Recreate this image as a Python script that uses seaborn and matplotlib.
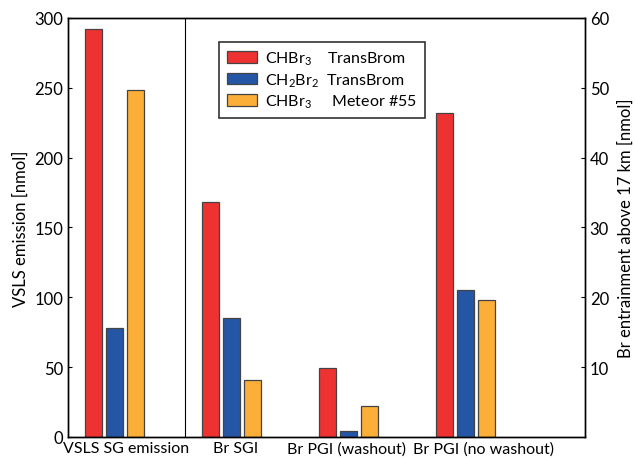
import pandas as pd
import matplotlib.pyplot as plt
import seaborn as sns

# values (nmol)
groups = ['VSLS SG emission', 'Br SGI', 'Br PGI (washout)', 'Br PGI (no washout)']
series = ['CHBr$_3$    TransBrom', 'CH$_2$Br$_2$  TransBrom', 'CHBr$_3$     Meteor #55']
chbr3_transbrom = [292, 168, 49, 232]
ch2br2_transbrom = [78, 85, 4, 105]
chbr3_meteor = [248, 41, 22, 98]
colors = ['#ee3232', '#2456a5', '#fbae38']

left_ticks = [0, 50, 100, 150, 200, 250, 300]
right_ticks = [10, 20, 30, 40, 50, 60]

rows = []
for name, vals in zip(series, [chbr3_transbrom, ch2br2_transbrom, chbr3_meteor]):
    for g, v in zip(groups, vals):
        rows.append({'group': g, 'series': name, 'value': v})
df = pd.DataFrame(rows)

sns.set_style('ticks')
plt.rcParams['font.family'] = ['Lato', 'DejaVu Sans']
plt.rcParams['mathtext.fontset'] = 'custom'
plt.rcParams['mathtext.rm'] = 'Lato'
plt.rcParams['mathtext.it'] = 'Lato:italic'
plt.rcParams['text.color'] = 'black'
plt.rcParams['axes.labelcolor'] = 'black'
plt.rcParams['xtick.color'] = 'black'
plt.rcParams['ytick.color'] = 'black'

fig = plt.figure(figsize=(6.35, 4.6), dpi=100)
ax = fig.add_axes([0.107, 0.048, 0.814, 0.911])

sns.barplot(data=df, x='group', y='value', hue='series', palette=colors,
            width=0.54, gap=0.2, edgecolor='#444444', linewidth=0.9,
            saturation=1, ax=ax)

ax.set_xlim(-0.40, 4.02)
ax.set_ylim(0, 300)
ax.set_yticks(left_ticks)
# labels sit slightly off the group centres in the original
ax.set_xticks([0.10, 1.03, 1.98, 3.15])
ax.set_xticklabels(groups)
ax.axvline(0.6, color='black', lw=0.8)
ax.set_xlabel('')
ax.set_ylabel('VSLS emission [nmol]', fontsize=12)
ax.tick_params(axis='y', direction='in', labelsize=12, length=3)
ax.tick_params(axis='x', length=0, labelsize=11.5, pad=3)

ax2 = ax.twinx()
ax2.set_ylim(0, 60)
ax2.set_yticks(right_ticks)
ax2.set_ylabel('Br entrainment above 17 km [nmol]', fontsize=12, labelpad=6)
ax2.tick_params(axis='y', direction='in', labelsize=12, length=3)

for a in (ax, ax2):
    for s in a.spines.values():
        s.set_visible(True)
        s.set_color('black')
        s.set_linewidth(1.0)

leg = ax.legend(loc='upper left', bbox_to_anchor=(0.292, 0.943), frameon=True,
                fancybox=False, edgecolor='black', fontsize=11.5,
                handlelength=1.9, handleheight=0.75, borderpad=0.5,
                labelspacing=0.25, borderaxespad=0, handletextpad=0.5)
leg.get_frame().set_linewidth(1.2)

fig.savefig('out.png', dpi=100)
